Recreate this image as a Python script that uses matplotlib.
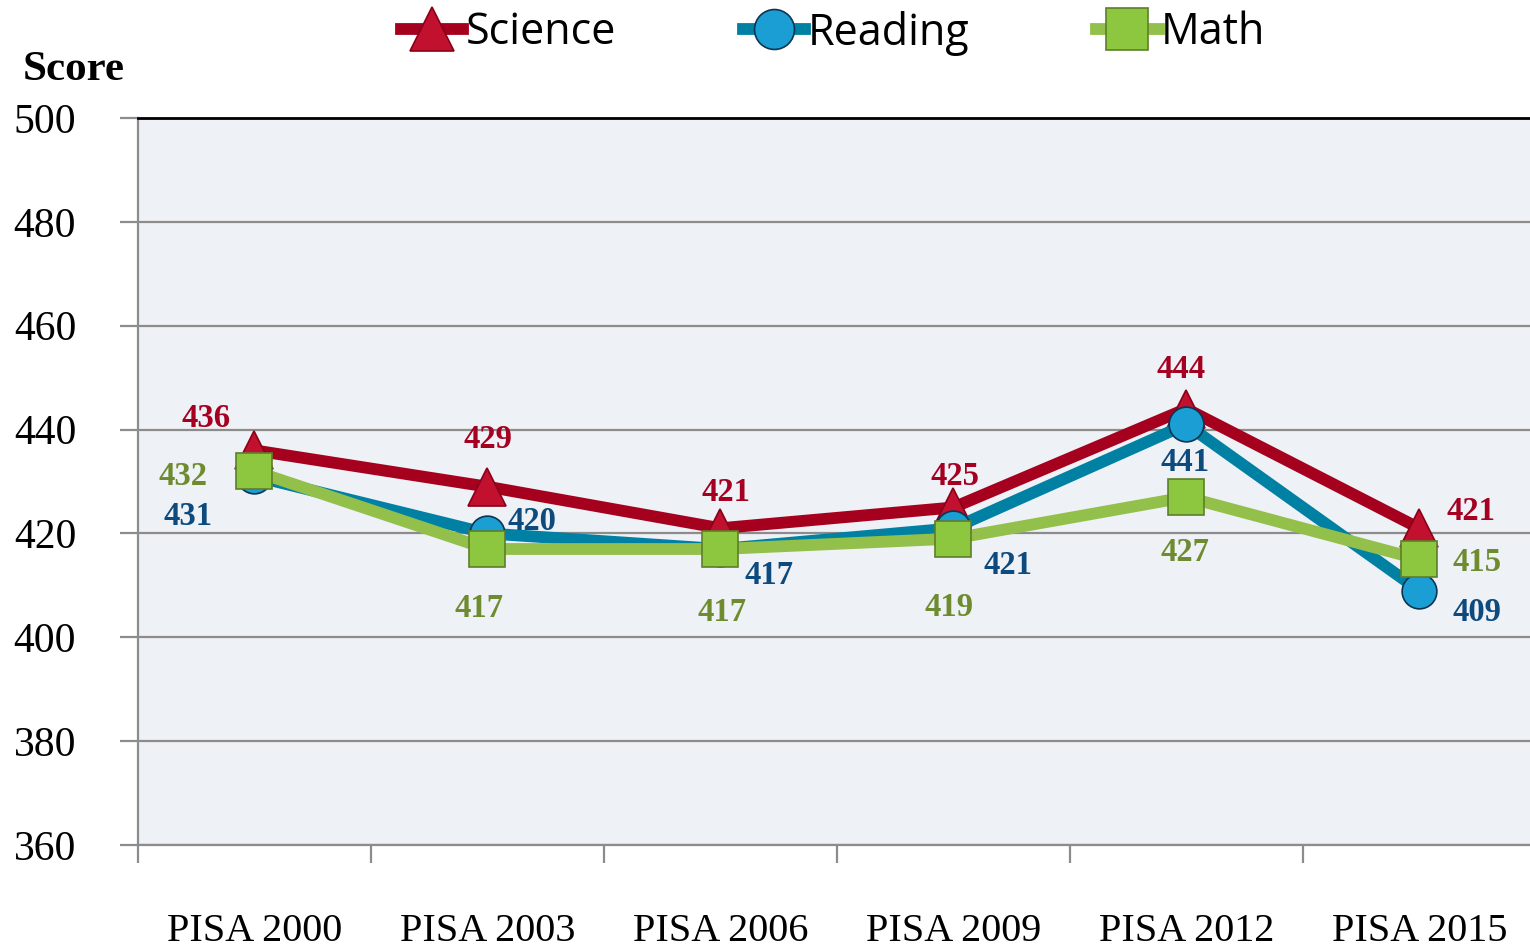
import numpy as np
import matplotlib
matplotlib.use("Agg")
import matplotlib.pyplot as plt

# donnees
annees = ["PISA 2000", "PISA 2003", "PISA 2006", "PISA 2009", "PISA 2012", "PISA 2015"]
science = [436, 429, 421, 425, 444, 421]
reading = [431, 420, 417, 421, 441, 409]
math = [432, 417, 417, 419, 427, 415]

# decalages des etiquettes (en pixels)
dec_science = [(-48, -32), (0, -47), (6, -36), (2, -31), (-5, -39), (52, -17)]
dec_reading = [(-66, 40), (44, -12), (49, 26), (55, 37), (-1, 38), (58, 22)]
dec_math = [(-71, 5), (-8, 59), (2, 63), (-4, 69), (-1, 55), (58, 3)]

serif = "Liberation Serif"
fig = plt.figure(figsize=(15.3, 9.49), dpi=100)
ax = fig.add_axes([138/1530, 1-845/949, 1-138/1530, (845-118)/949])
ax.set_facecolor("#EEF1F5")

x = np.arange(len(annees))
series = [
    ("Science", science, "#A6001F", "^", "#C2102F", "#8A0018", "#A50021", dec_science, 27),
    ("Reading", reading, "#0080A3", "o", "#1B9ED3", "#0B3552", "#0D4A7E", dec_reading, 25),
    ("Math", math, "#92C04A", "s", "#8DC63F", "#5E7F2A", "#6E8B30", dec_math, 26),
]
for nom, val, coul, mk, mfc, mec, ctxt, dec, ms in series:
    ax.plot(x, val, color=coul, lw=8.5, marker=mk, ms=ms, mfc=mfc, mec=mec, mew=1.2,
            label=nom, solid_joinstyle="miter")
    for xi, v, (dx, dy) in zip(x, val, dec):
        ax.annotate(str(v), (xi, v), xytext=(dx*0.72, -dy*0.72), textcoords="offset points",
                    ha="center", va="center", fontsize=23.5, fontweight="bold",
                    family=serif, color=ctxt)

ax.set_xlim(-0.5, 5.475)
ax.set_ylim(360, 500)
ax.set_yticks(np.arange(360, 501, 20))
ax.yaxis.grid(True, color="#8C8C8C", lw=1.6)
ax.set_axisbelow(True)
ax.set_xticks(x)
ax.set_xticklabels(annees)
ax.set_xticks(np.arange(-0.5, 5.5, 1), minor=True)
ax.tick_params(axis="x", which="major", length=0, pad=49, labelsize=29)
ax.tick_params(axis="x", which="minor", length=13, width=1.6, color="#8C8C8C")
ax.tick_params(axis="y", length=13, width=1.6, color="#8C8C8C", pad=54, labelsize=30)
for lab in ax.get_xticklabels() + ax.get_yticklabels():
    lab.set_family(serif)
for lab in ax.get_yticklabels():
    lab.set_ha("center")

ax.spines["right"].set_visible(False)
ax.spines["top"].set_color("black")
ax.spines["top"].set_linewidth(2)
for s in ["left", "bottom"]:
    ax.spines[s].set_color("#8C8C8C")
    ax.spines[s].set_linewidth(1.6)

fig.text(74/1530, 1-70/949, "Score", ha="center", va="center", fontsize=31,
         fontweight="bold", family=serif)

fig.legend(loc="center", bbox_to_anchor=(833/1530, 1-33/949), ncol=3, frameon=False,
           prop={"family": "Open Sans", "size": 31}, handlelength=1.45,
           handletextpad=0.05, columnspacing=2.95, borderpad=0, markerscale=1.15)

fig.savefig("out.png", dpi=100)
